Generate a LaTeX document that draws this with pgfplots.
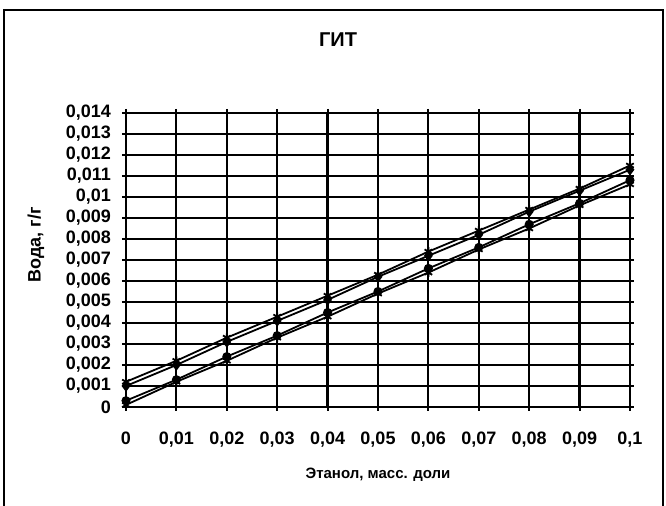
\documentclass[border=0pt]{standalone}
\usepackage{pgfplots}
\pgfplotsset{compat=1.18}
\usepackage{fontspec}
\setmainfont{Liberation Sans}
\begin{document}
\begin{tikzpicture}[x=1pt,y=1pt]
\useasboundingbox (-63,-49.5) rectangle (270,203.5);
\draw[line width=1.2pt] (-61,-49.5) -- (-61,198.5) -- (268.5,198.5) -- (268.5,-49.5);
\begin{axis}[
  at={(0,0)}, anchor=origin,
  scale only axis, width=252pt, height=147pt,
  xmin=0, xmax=0.1, ymin=0, ymax=0.014,
  xtick={0,0.01,...,0.1001},
  ytick={0,0.001,...,0.01401},
  xticklabels={0,{0,01},{0,02},{0,03},{0,04},{0,05},{0,06},{0,07},{0,08},{0,09},{0,1}},
  yticklabels={0,{0,001},{0,002},{0,003},{0,004},{0,005},{0,006},{0,007},{0,008},{0,009},{0,01},{0,011},{0,012},{0,013},{0,014}},
  scaled ticks=false,
  ticklabel style={font=\fontsize{9}{10}\selectfont\bfseries},
  tick align=center, major tick length=4pt,
  tick style={black, line width=1pt},
  axis line style={black, line width=1.2pt},
  grid=major, major grid style={black, line width=1.1pt},
  xticklabel style={yshift=-7pt},
  yticklabel style={xshift=-2pt},
]
\addplot[black, line width=0.9pt, mark=asterisk, mark size=2.2pt] coordinates {
(0,0.0012)(0.01,0.0022)(0.02,0.0033)(0.03,0.0043)(0.04,0.0053)(0.05,0.0063)(0.06,0.0074)(0.07,0.0084)(0.08,0.0094)(0.09,0.0104)(0.1,0.0115)};
\addplot[black, line width=0.9pt, mark=diamond*, mark size=2.2pt] coordinates {
(0,0.0010)(0.01,0.0020)(0.02,0.0031)(0.03,0.0041)(0.04,0.0051)(0.05,0.0062)(0.06,0.0072)(0.07,0.0082)(0.08,0.0093)(0.09,0.0103)(0.1,0.0113)};
\addplot[black, line width=0.9pt, mark=*, mark size=1.8pt] coordinates {
(0,0.0003)(0.01,0.0013)(0.02,0.0024)(0.03,0.0034)(0.04,0.0045)(0.05,0.0055)(0.06,0.0066)(0.07,0.0076)(0.08,0.0087)(0.09,0.0097)(0.1,0.0108)};
\addplot[black, line width=0.9pt, mark=asterisk, mark size=2.2pt] coordinates {
(0,0.0001)(0.01,0.0012)(0.02,0.0022)(0.03,0.0033)(0.04,0.0043)(0.05,0.0054)(0.06,0.0064)(0.07,0.0075)(0.08,0.0085)(0.09,0.0096)(0.1,0.0106)};
\end{axis}
\node[font=\fontsize{10}{12}\selectfont\bfseries] at (106,183.5) {ГИТ};
\node[font=\fontsize{9}{11}\selectfont\bfseries, rotate=90] at (-45,81) {Вода, г/г};
\node[font=\fontsize{7.5}{9}\selectfont\bfseries] at (126,-34) {Этанол, масс. доли};
\end{tikzpicture}
\end{document}
